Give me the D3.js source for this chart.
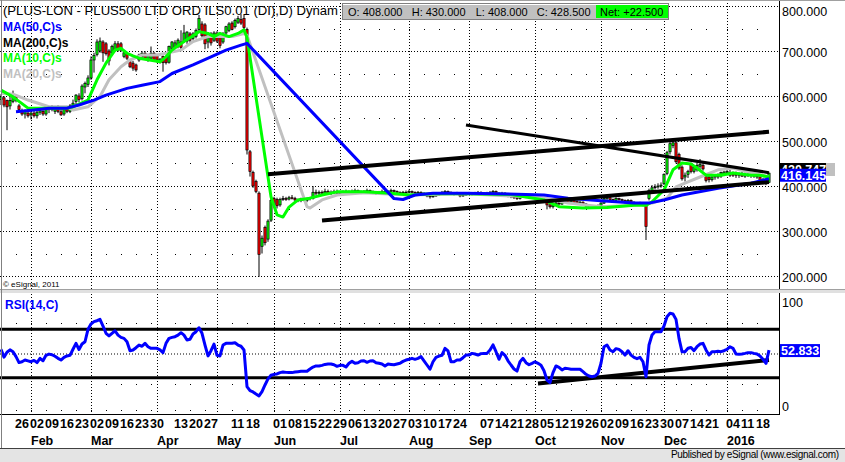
<!DOCTYPE html>
<html><head><meta charset="utf-8">
<script src="https://cdn.jsdelivr.net/npm/d3@7"></script>
<style>
body{margin:0;background:#fff;}
svg{display:block;font-family:"Liberation Sans",Arial,sans-serif;}
</style></head><body>
<svg id="c" width="845" height="462"></svg>
<script>
// ---------------- DATA ----------------
const firstDay = "2015-01-19", lastDay = "2016-01-22";
const holidays = ["2015-04-03","2015-04-06","2015-05-04","2015-05-25","2015-08-31","2015-12-25","2015-12-28","2016-01-01"];

// daily bars [open, high, low, close]
const jan15 = [[592,604,580,598],[596,600,575,580],[590,592,524,576],[578,598,570,590],[588,612,584,600],[598,602,586,590],[578,582,565,570],[566,572,556,560],[560,570,550,566],[562,572,552,556]];
const feb15 = [[558,566,548,562],[562,570,552,556],[556,568,550,564],[564,574,558,568],[566,570,556,560],[560,575,556,572],[570,578,562,574],[574,580,566,570],[566,578,560,576],[576,580,562,566],[565,572,556,558],[560,576,556,572],[572,578,562,566],[566,582,562,578],[578,592,574,584],[588,604,582,602],[600,606,586,592],[594,626,590,622],[620,632,606,628],[626,646,620,640]];
const mar15 = [[640,688,636,680],[680,696,652,690],[692,726,688,720],[700,730,696,722],[720,724,676,696],[716,720,690,694],[700,704,668,678],[696,714,690,710],[702,722,698,716],[716,722,698,702],[716,720,698,702],[688,700,684,696],[694,698,680,684],[676,680,662,665],[673,678,656,662],[669,672,654,658],[680,694,676,691],[687,700,684,695],[695,700,682,684],[680,694,676,691],[684,710,680,695],[695,698,676,680]];
const apr15 = [[690,694,674,680],[676,684,672,682],[688,690,654,674],[686,690,670,674],[675,712,672,710],[706,722,700,720],[708,724,704,718],[710,728,706,724],[720,746,704,708],[722,758,718,740],[722,744,716,742],[738,742,716,724],[728,742,724,738],[732,750,728,746],[748,780,744,772],[760,766,730,734],[758,762,704,716],[720,740,706,738],[738,742,712,718],[724,744,720,740]];
const may15 = [[740,744,718,722],[734,738,706,712],[720,742,716,738],[740,756,736,754],[746,764,742,760],[762,766,746,748],[754,772,750,768],[764,778,760,772],[770,782,758,762],[772,780,748,752],[748,752,470,480],[476,480,421,432],[430,434,396,400],[410,414,384,388],[384,388,198,248],[266,290,250,284],[308,312,268,274],[282,326,276,322],[324,372,320,368]];
const jun15 = [[372,376,352,358],[370,374,350,356],[358,374,354,370],[372,378,367,372],[372,376,367,371],[371,378,368,374],[374,380,370,372],[372,376,366,369],[369,372,364,368],[368,374,364,372],[372,376,366,368],[368,374,364,372],[372,376,368,374],[372,400,370,386],[386,392,380,384],[384,390,380,386],[386,390,382,384],[384,394,380,388],[388,392,382,384],[384,390,380,386],[386,392,382,388],[388,392,382,384]];
const jul15 = [[384,388,380,384],[384,390,382,386],[386,392,383,388],[388,390,382,386],[386,392,384,388],[388,394,385,390],[390,392,384,388],[388,390,382,386],[386,391,383,388],[388,394,386,390],[390,392,385,388],[388,390,382,386],[386,388,380,384],[384,389,381,386],[386,392,384,388],[388,390,383,386],[386,391,384,388],[388,394,386,390],[390,392,385,388],[388,390,383,386],[386,388,380,384],[384,389,381,386],[386,390,382,386]];
const aug15 = [[386,392,384,388],[388,390,383,386],[386,388,381,384],[384,389,382,386],[386,388,381,384],[384,386,379,382],[382,384,375,378],[378,380,372,376],[376,381,374,378],[378,383,376,380],[380,385,378,382],[382,389,380,386],[386,391,384,388],[388,390,383,386],[386,388,381,384],[384,386,379,382],[382,387,380,384],[384,386,375,378],[378,383,376,380],[380,385,378,382]];
const sep15 = [[382,387,380,384],[384,386,379,382],[382,387,380,384],[384,389,382,386],[386,388,381,384],[384,386,379,382],[382,387,380,384],[384,389,382,386],[386,391,384,388],[388,390,381,384],[384,386,379,382],[382,387,380,384],[384,386,379,382],[382,384,375,378],[378,380,373,376],[376,378,371,374],[374,376,369,372],[372,379,370,376],[376,381,374,378],[378,380,373,376],[376,378,371,374],[374,379,372,376]];
const oct15 = [[376,380,372,376],[376,378,371,374],[374,376,369,372],[372,374,363,366],[366,368,348,358],[358,362,350,354],[354,361,350,358],[358,365,356,362],[362,366,357,360],[360,367,358,364],[364,369,362,366],[368,370,362,364],[364,369,362,366],[368,370,362,364],[366,368,360,362],[362,367,360,364],[364,366,357,360],[360,362,353,356],[356,358,351,354],[354,356,349,352],[352,357,350,354],[354,359,352,356]];
const nov15 = [[356,364,354,362],[362,376,360,372],[372,378,368,374],[374,376,367,370],[370,372,365,368],[368,375,366,372],[372,374,367,370],[370,372,365,368],[368,370,361,364],[364,371,362,368],[368,370,361,364],[364,366,359,362],[362,364,357,360],[360,365,358,362],[362,364,355,358],[356,358,280,310],[372,394,368,390],[390,402,386,396],[398,404,392,398],[398,406,394,400],[400,408,396,402]];
const dec15 = [[405,428,402,426],[428,478,424,474],[476,498,470,494],[490,502,484,496],[496,498,450,454],[470,474,436,440],[442,446,412,416],[420,430,410,424],[426,436,418,432],[450,452,428,432],[432,446,428,442],[436,452,432,446],[444,460,438,448],[446,450,434,438],[422,426,408,412],[420,424,408,414],[414,424,410,420],[420,426,414,422],[422,428,416,420],[422,432,418,430],[426,434,422,431]];
const jan16 = [[430,452,424,432],[430,436,420,424],[428,432,420,424],[426,432,418,424],[424,430,418,426],[426,432,420,422],[422,430,418,426],[426,432,420,424],[424,430,418,426],[426,430,418,422],[422,428,416,420],[420,422,408,412],[414,418,404,408],[410,414,402,406],[408,430,408,428.5]];

// RSI(14) per bar
const rsi = [53.4,47,51,53,51.5,47.4,42.5,43.2,44.6,43.9,
43.2,44.3,42.5,46,44,48.5,49.5,49,47.7,46,
44.6,46.8,48,48.5,53.5,58.4,53.3,57.8,59.7,70,
74.4,76.3,77.1,78.2,72.7,66.7,64.5,66.7,68.8,65.2,
63.3,62.5,59.7,52.3,52.9,54.8,57,56,58.4,55.6,
54.3,54.3,54.3,53,50.7,58.4,62.5,63.3,63.9,65.2,
67.2,65.2,61.2,61.7,66.1,68,71.3,66.7,57,48,
52.3,57.8,48.5,48,57,58.4,58.4,58.4,58.9,57,
56,52.9,22.6,19.3,18.2,16.5,14.9,18.5,24,29,
32,32.8,33.1,34.2,34.7,34.4,34.2,34.2,34.7,35,
35.3,35.3,35.3,37.2,38.8,39.7,39.7,40.2,41,41.3,
41.3,40.7,39.4,40.2,40.2,38.8,41.9,43.5,41.9,42.4,
43.8,44,42.7,43.8,44,42.4,41.9,41.3,39.7,41.3,
41,40.7,41.3,41.9,43.5,44.6,45.2,46,45.2,46,
47.4,44,40.5,37,43.2,46.8,47.9,48.5,54.3,52.1,
43.2,43.2,44.6,44.6,46.5,48.7,48.7,50.1,49.6,48.7,
49.9,50.1,50.1,52.9,57.1,51.5,45.2,50.7,48.5,44,
40.5,37.2,35.5,43.2,46,42.4,40.7,41.9,43.2,41.9,
40.3,35.8,28.1,26,34.2,39.7,38.6,36.4,37.8,37.5,
37,37,37,37,35,32.8,31.4,30.8,31.4,33.6,
41.9,55.6,57,52.9,51.5,54,53.4,51.5,48.7,52.3,
48.7,46.8,45.7,46.8,43.2,30.8,57,65.3,68,68,
68,72.7,80.4,83.2,82.7,78.2,62.5,51.5,51.5,54.3,
55,52.3,55.6,57.8,58.4,52.9,48.7,51.5,51.5,51.8,
51.5,52.3,53.4,55.6,54.3,49.6,49.3,49.6,50.1,50.7,
50.7,50.1,49.6,48,45.2,41.9,52.833];

// moving averages [date, value]
const ma10 = [["2015-01-19",613],["2015-01-23",598],["2015-01-30",573],["2015-02-10",573],["2015-02-18",573],["2015-02-20",576],["2015-02-27",591],["2015-03-04",636],["2015-03-09",673],["2015-03-12",702],["2015-03-16",706],["2015-03-18",695],["2015-03-20",689],["2015-03-24",684],["2015-04-02",676],["2015-04-08",687],["2015-04-10",702],["2015-04-16",721],["2015-04-21",734],["2015-04-23",743],["2015-04-28",739],["2015-04-30",732],["2015-05-05",739],["2015-05-08",732],["2015-05-13",739],["2015-05-15",747],["2015-05-18",730],["2015-05-29",376],["2015-06-02",336],["2015-06-04",331],["2015-06-08",353],["2015-06-11",369],["2015-06-17",373],["2015-06-23",380],["2015-06-30",387],["2015-07-13",387],["2015-07-24",384],["2015-08-03",380],["2015-08-13",383],["2015-08-28",383],["2015-09-21",381],["2015-10-06",369],["2015-10-13",354],["2015-10-23",351],["2015-11-04",352],["2015-11-17",357],["2015-11-23",357],["2015-11-25",365],["2015-12-01",391],["2015-12-04",436],["2015-12-09",451],["2015-12-14",449],["2015-12-16",440],["2015-12-21",424],["2015-12-30",424],["2016-01-06",429],["2016-01-14",424],["2016-01-19",424],["2016-01-22",420]];
const ma20 = [["2015-01-19",606],["2015-01-23",604],["2015-01-30",591],["2015-02-10",576],["2015-02-18",576],["2015-02-20",569],["2015-02-27",576],["2015-03-05",599],["2015-03-10",636],["2015-03-16",665],["2015-03-19",680],["2015-03-25",691],["2015-04-01",691],["2015-04-08",695],["2015-04-15",702],["2015-04-21",721],["2015-04-28",732],["2015-05-05",732],["2015-05-11",732],["2015-05-15",739],["2015-05-18",735],["2015-06-16",354],["2015-06-17",351],["2015-06-23",369],["2015-06-30",380],["2015-07-13",385],["2015-08-03",380],["2015-08-28",383],["2015-10-06",374],["2015-10-16",362],["2015-11-02",354],["2015-11-17",357],["2015-11-25",362],["2015-12-02",373],["2015-12-07",398],["2015-12-11",409],["2015-12-17",420],["2015-12-29",436],["2016-01-06",440],["2016-01-13",431],["2016-01-22",420]];
const ma50 = [["2015-01-26",565],["2015-02-03",569],["2015-02-10",573],["2015-02-18",573],["2015-02-24",580],["2015-03-03",591],["2015-03-09",602],["2015-03-18",617],["2015-03-25",624],["2015-04-02",632],["2015-04-10",650],["2015-04-21",669],["2015-04-29",687],["2015-05-07",702],["2015-05-14",713],["2015-05-18",717],["2015-07-27",372],["2015-07-30",370],["2015-08-05",380],["2015-08-13",384],["2015-08-28",384],["2015-09-14",383],["2015-10-06",380],["2015-10-16",373],["2015-11-02",367],["2015-11-17",362],["2015-11-24",362],["2015-12-01",369],["2015-12-09",380],["2015-12-29",395],["2016-01-14",406],["2016-01-22",416.145]];

// hand-drawn trend lines [[date, value],[date, value]]
const priceTrends = [
  [["2015-05-28",426],["2016-01-22",520.5]],
  [["2015-06-23",323.3],["2016-01-22",408.6]],
  [["2015-08-28",535.6],["2016-01-22",429.6]]
];
const rsiTrend = [["2015-10-02",25.2],["2016-01-22",44.6]];
const rsiBands = [70, 30];

const priceTicks = [800,700,600,500,400,300,200];
const priceMinor = [750,650,550,450,350,250];
const rsiMinor = [75,25];
const weekTicks = ["2015-01-26","2015-02-02","2015-02-09","2015-02-16","2015-02-23","2015-03-02","2015-03-09","2015-03-16","2015-03-23","2015-03-30","2015-04-13","2015-04-20","2015-04-27","2015-05-11","2015-05-18","2015-06-01","2015-06-08","2015-06-15","2015-06-22","2015-06-29","2015-07-06","2015-07-13","2015-07-20","2015-07-27","2015-08-03","2015-08-10","2015-08-17","2015-08-24","2015-09-07","2015-09-14","2015-09-21","2015-09-28","2015-10-05","2015-10-12","2015-10-19","2015-10-26","2015-11-02","2015-11-09","2015-11-16","2015-11-23","2015-11-30","2015-12-07","2015-12-14","2015-12-21","2016-01-04","2016-01-11","2016-01-18"];
const monthTicks = [["2015-02-02","Feb"],["2015-03-02","Mar"],["2015-04-01","Apr"],["2015-05-01","May"],["2015-06-01","Jun"],["2015-07-01","Jul"],["2015-08-03","Aug"],["2015-09-01","Sep"],["2015-10-01","Oct"],["2015-11-02","Nov"],["2015-12-01","Dec"],["2016-01-04","2016"]];

const title = "(PLUS-LON - PLUS500 LTD ORD ILS0.01 (DI),D) Dynam";
const legend = [["MA(50,C)s","#0000ff"],["MA(200,C)s","#000000"],["MA(10,C)s","#00ff00"],["MA(20,C)s","#c0c0c0"]];
const quote = [["O: 408.000"],["H: 430.000"],["L: 408.000"],["C: 428.500"]];
const netText = "Net: +22.500";
const lastMA20 = "428.745", lastClose = "420.747", lastMA50 = "416.145", lastRSI = "52.833";

// ---------------- BUILD ----------------
const fmt = d3.timeFormat("%Y-%m-%d"), parse = d3.timeParse("%Y-%m-%d");
const dates = d3.timeDay.range(parse(firstDay), d3.timeDay.offset(parse(lastDay),1))
  .filter(d => d.getDay()!==0 && d.getDay()!==6 && !holidays.includes(fmt(d))).map(fmt);
const ohlc = [].concat(jan15,feb15,mar15,apr15,may15,jun15,jul15,aug15,sep15,oct15,nov15,dec15,jan16);
const bars = dates.map((d,i)=>({date:d,o:ohlc[i][0],h:ohlc[i][1],l:ohlc[i][2],c:ohlc[i][3],rsi:rsi[i]}));

const svg = d3.select("#c");
const R = 779;
const x = d3.scaleBand().domain(dates).range([-0.5, -0.5 + 3*dates.length]).padding(0);
const cx = d => x(d) + x.bandwidth()/2;
const yP = d3.scaleLinear().domain([200,800]).range([276,6]);
const yR = d3.scaleLinear().domain([0,100]).range([414,293]);

svg.append("rect").attr("width",845).attr("height",462).attr("fill","#fff");

const defs = svg.append("defs");
defs.append("clipPath").attr("id","cp").append("rect").attr("x",0).attr("y",0).attr("width",R).attr("height",289);
defs.append("clipPath").attr("id","cr").append("rect").attr("x",0).attr("y",294).attr("width",R).attr("height",120);

// grid
const grid = svg.append("g");
grid.selectAll(".hp").data(priceTicks).join("line")
  .attr("x1",0).attr("x2",R).attr("y1",d=>yP(d)+0.5).attr("y2",d=>yP(d)+0.5)
  .attr("stroke","#000").attr("stroke-dasharray","1,2");
grid.append("line").attr("x1",0).attr("x2",R).attr("y1",yR(50)+0.5).attr("y2",yR(50)+0.5)
  .attr("stroke","#000").attr("stroke-dasharray","1,2");
monthTicks.forEach(([d])=>{
  grid.append("line").attr("x1",Math.round(cx(d))+0.5).attr("x2",Math.round(cx(d))+0.5).attr("y1",0).attr("y2",414)
   .attr("stroke","#000").attr("stroke-dasharray","1,2");
});
weekTicks.forEach(d=>{
  priceMinor.forEach(v=>grid.append("rect").attr("x",Math.round(cx(d))).attr("y",Math.round(yP(v))).attr("width",1).attr("height",1).attr("fill","#000"));
  rsiMinor.forEach(v=>grid.append("rect").attr("x",Math.round(cx(d))).attr("y",Math.round(yR(v))).attr("width",1).attr("height",1).attr("fill","#000"));
  grid.append("rect").attr("x",Math.round(cx(d))).attr("y",410).attr("width",1).attr("height",1).attr("fill","#000");
});

// price panel
const pp = svg.append("g").attr("clip-path","url(#cp)");
const cg = pp.append("g");
cg.selectAll("line.w").data(bars).join("line")
  .attr("x1",d=>cx(d.date)).attr("x2",d=>cx(d.date))
  .attr("y1",d=>yP(d.h)).attr("y2",d=>yP(d.l)).attr("stroke","#000").attr("stroke-width",1);
cg.selectAll("rect.b").data(bars).join("rect")
  .attr("x",d=>cx(d.date)-1.1).attr("width",2.2)
  .attr("y",d=>yP(Math.max(d.o,d.c))).attr("height",d=>Math.max(0.8,Math.abs(yP(d.o)-yP(d.c))))
  .attr("fill",d=>d.c>d.o?"#00ff00":(d.c<d.o?"#ff0000":"#000"))
  .attr("stroke","#000").attr("stroke-width",0.7);

const line = d3.line().x(d=>cx(d[0])).y(d=>yP(d[1]));
pp.append("path").attr("d",line(ma20)).attr("fill","none").attr("stroke","#c0c0c0").attr("stroke-width",3).attr("stroke-linejoin","round");
pp.append("path").attr("d",line(ma10)).attr("fill","none").attr("stroke","#00ff00").attr("stroke-width",3).attr("stroke-linejoin","round");
pp.append("path").attr("d",line(ma50)).attr("fill","none").attr("stroke","#0000ff").attr("stroke-width",3).attr("stroke-linejoin","round");
priceTrends.forEach((t,i)=>pp.append("path").attr("d",line(t)).attr("stroke","#000").attr("stroke-width",i===2?3:4).attr("fill","none"));

// RSI panel
const rp = svg.append("g").attr("clip-path","url(#cr)");
rsiBands.forEach(v=>rp.append("line").attr("x1",0).attr("x2",R).attr("y1",yR(v)).attr("y2",yR(v)).attr("stroke","#000").attr("stroke-width",3));
rp.append("path").attr("d",d3.line().x(d=>cx(d[0])).y(d=>yR(d[1]))(rsiTrend)).attr("stroke","#000").attr("stroke-width",4).attr("fill","none");
rp.append("path").datum(bars).attr("d",d3.line().x(d=>cx(d.date)).y(d=>yR(d.rsi)))
  .attr("fill","none").attr("stroke","#0000ff").attr("stroke-width",3).attr("stroke-linejoin","round");

// frames
svg.append("line").attr("x1",R+0.5).attr("x2",R+0.5).attr("y1",0).attr("y2",414).attr("stroke","#000");
svg.append("line").attr("x1",0).attr("x2",R+1).attr("y1",414.5).attr("y2",414.5).attr("stroke","#000");
svg.append("rect").attr("x",0).attr("y",289).attr("width",845).attr("height",4).attr("fill","#e0e0e0");
svg.append("line").attr("x1",0).attr("x2",845).attr("y1",289.5).attr("y2",289.5).attr("stroke","#a0a0a0");
svg.append("line").attr("x1",0).attr("x2",845).attr("y1",0.5).attr("y2",0.5).attr("stroke","#a0a0a0");
svg.append("line").attr("x1",1.5).attr("x2",1.5).attr("y1",0).attr("y2",448).attr("stroke","#808080");
svg.append("rect").attr("x",0).attr("y",448).attr("width",845).attr("height",14).attr("fill","#e4e4e4");
svg.append("line").attr("x1",0).attr("x2",845).attr("y1",448.5).attr("y2",448.5).attr("stroke","#404040");

// right price axis
const ax = svg.append("g").attr("transform",`translate(${R},0)`)
  .call(d3.axisRight(yP).tickValues(priceTicks).tickFormat(d3.format(".3f")).tickSize(0).tickPadding(3));
ax.select(".domain").remove();
ax.selectAll("text").attr("font-size",12.5).attr("font-family","Liberation Sans, Arial").attr("fill","#000")
  .attr("dy",d=>d===800?"0.75em":"0.45em");
svg.append("text").attr("x",R+3).attr("y",yR(100)+14).attr("font-size",12.5).text("100");
svg.append("text").attr("x",R+3).attr("y",yR(0)-3).attr("font-size",12.5).text("0");

// value boxes on the axis (stacked as in the source, partly hidden)
function vbox(y, w, fill, txt, col){
  svg.append("rect").attr("x",R+1).attr("y",y).attr("width",w).attr("height",13).attr("fill",fill);
  svg.append("text").attr("x",R+2).attr("y",y+11).attr("font-size",12.5).attr("font-weight","bold").attr("fill",col).text(txt);
}
vbox(163, 55, "#c0c0c0", lastMA20, "#000");
vbox(163, 46, "#000", lastClose, "#fff");
vbox(yP(416.145)-10, 46, "#0000ff", lastMA50, "#fff");
vbox(yR(52.833)-6, 40, "#0000ff", lastRSI, "#fff");

// x axis labels
const xl = svg.append("g").attr("font-size",12.5).attr("font-weight","bold").attr("fill","#000");
xl.selectAll("text.d").data(weekTicks).join("text").attr("x",d=>cx(d)-1).attr("y",428).text(d=>d.slice(8));
xl.selectAll("text.m").data(monthTicks).join("text").attr("x",d=>cx(d[0])).attr("y",445).text(d=>d[1]);

// title, legend
svg.append("text").attr("x",3).attr("y",15).attr("font-size",13.2).attr("textLength",335).attr("lengthAdjust","spacingAndGlyphs").attr("fill","#000").text(title);
legend.forEach(([t,c],i)=>svg.append("text").attr("x",3).attr("y",31+i*15.5).attr("font-size",12).attr("font-weight","bold").attr("fill",c).text(t));
svg.append("text").attr("x",5).attr("y",308.5).attr("font-size",12).attr("font-weight","bold").attr("fill","#0000ff").text("RSI(14,C)");
svg.append("text").attr("x",3).attr("y",287).attr("font-size",8).attr("fill","#000").text("\u00a9 eSignal, 2011");

// quote box
const qb = svg.append("g");
qb.append("rect").attr("x",342.5).attr("y",3.5).attr("width",326).attr("height",16).attr("fill","#c0c0c0").attr("stroke","#808080");
qb.append("line").attr("x1",343).attr("x2",668).attr("y1",4.5).attr("y2",4.5).attr("stroke","#fff");
qb.append("rect").attr("x",596).attr("y",5).attr("width",72).attr("height",13).attr("fill","#00ff00");
const qx = [348, 411.7, 475.7, 536.7];
quote.forEach((q,i)=>qb.append("text").attr("x",qx[i]).attr("y",16).attr("font-size",11).attr("fill","#000").text(q[0]));
qb.append("text").attr("x",600).attr("y",16).attr("font-size",11).attr("fill","#000").text(netText);

svg.append("text").attr("x",839).attr("y",458).attr("text-anchor","end").attr("font-size",10).attr("textLength",168).attr("fill","#000").text("Published by eSignal (www.esignal.com)");
</script>
</body></html>
